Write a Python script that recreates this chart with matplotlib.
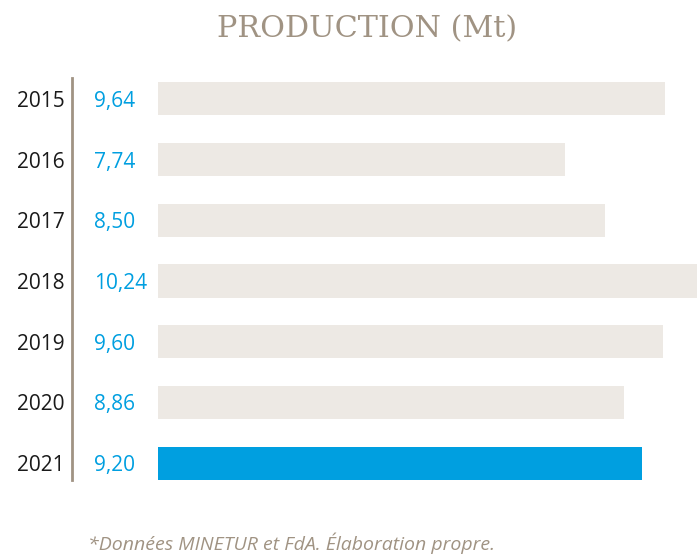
import matplotlib
matplotlib.use("Agg")
import matplotlib.pyplot as plt
from matplotlib.lines import Line2D
import matplotlib.transforms as mtrans

years = ["2015", "2016", "2017", "2018", "2019", "2020", "2021"]
values = [9.64, 7.74, 8.50, 10.24, 9.60, 8.86, 9.20]
value_labels = ["9,64", "7,74", "8,50", "10,24", "9,60", "8,86", "9,20"]
highlight = "2021"

W, H = 697, 554
fig = plt.figure(figsize=(W / 100, H / 100), dpi=100)
fig.patch.set_facecolor("white")

# bar axes: pixel coordinates converted to figure fractions
ax_left, ax_right = 158, 697
ax_top, ax_bottom = 68.6, 493.4
ax = fig.add_axes([ax_left / W, 1 - ax_bottom / H, (ax_right - ax_left) / W, (ax_bottom - ax_top) / H])
ax.set_xlim(0, max(values))
ax.set_ylim(len(years) - 0.5, -0.5)
ax.axis("off")

grey_bar = "#ede9e4"
blue = "#009fe0"
colors = [blue if y == highlight else grey_bar for y in years]
ax.barh(range(len(years)), values, height=0.545, color=colors, edgecolor="none")

trans = mtrans.blended_transform_factory(fig.transFigure, ax.transData)
for i, (y, lab) in enumerate(zip(years, value_labels)):
    fig.text(64.5 / W, i, y, transform=trans, ha="right", va="center_baseline",
             fontsize=15, color="#1a1a1a", family="Open Sans")
    fig.text(94 / W, i, lab, transform=trans, ha="left", va="center_baseline",
             fontsize=15, color=blue, family="Open Sans")

# vertical separator line
fig.add_artist(Line2D([72 / W, 72 / W], [1 - 78 / H, 1 - 480 / H],
                      transform=fig.transFigure, color="#a09383", linewidth=2))

fig.text(367 / W, 1 - 29 / H, "PRODUCTION (Mt)", ha="center", va="center",
         fontsize=21.8, color="#a09383", family="DejaVu Serif")

fig.text(291 / W, 1 - 543 / H, "*Données MINETUR et FdA. Élaboration propre.",
         ha="center", va="center", fontsize=14, color="#a09383",
         family="Open Sans", style="italic")

fig.savefig("out.png", dpi=100, facecolor="white")
